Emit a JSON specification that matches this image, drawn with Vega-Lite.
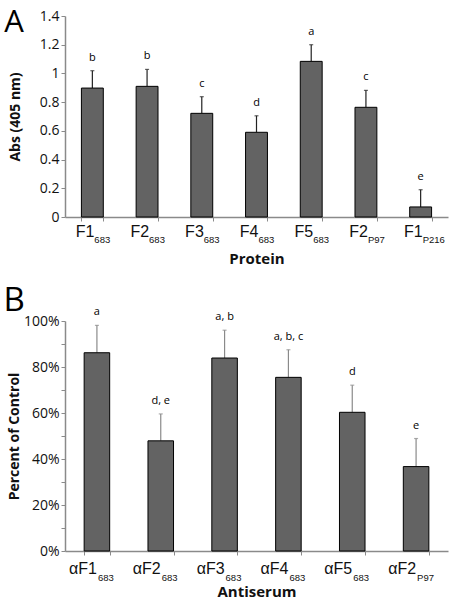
{
  "$schema": "https://vega.github.io/schema/vega-lite/v6.json",
  "background": "white",
  "padding": {"left": 3, "top": 7, "right": 5, "bottom": 0},
  "spacing": 18,
  "config": {
    "view": {"stroke": null},
    "font": "Open Sans",
    "axis": {"domainColor": "#8a8a8a", "tickColor": "#8a8a8a", "grid": false, "labelColor": "#111", "titleColor": "#111"}
  },
  "datasets": {
    "a": [
      {"cat": "F1_683", "main": "F1", "sub": "683", "value": 0.898, "upper": 1.019, "sig": "b"},
      {"cat": "F2_683", "main": "F2", "sub": "683", "value": 0.91, "upper": 1.028, "sig": "b"},
      {"cat": "F3_683", "main": "F3", "sub": "683", "value": 0.722, "upper": 0.838, "sig": "c"},
      {"cat": "F4_683", "main": "F4", "sub": "683", "value": 0.59, "upper": 0.705, "sig": "d"},
      {"cat": "F5_683", "main": "F5", "sub": "683", "value": 1.084, "upper": 1.2, "sig": "a"},
      {"cat": "F2_P97", "main": "F2", "sub": "P97", "value": 0.764, "upper": 0.882, "sig": "c"},
      {"cat": "F1_P216", "main": "F1", "sub": "P216", "value": 0.07, "upper": 0.19, "sig": "e"}
    ],
    "b": [
      {"cat": "aF1_683", "main": "αF1", "sub": "683", "value": 0.862, "upper": 0.981, "sig": "a"},
      {"cat": "aF2_683", "main": "αF2", "sub": "683", "value": 0.479, "upper": 0.596, "sig": "d, e"},
      {"cat": "aF3_683", "main": "αF3", "sub": "683", "value": 0.839, "upper": 0.96, "sig": "a, b"},
      {"cat": "aF4_683", "main": "αF4", "sub": "683", "value": 0.755, "upper": 0.875, "sig": "a, b, c"},
      {"cat": "aF5_683", "main": "αF5", "sub": "683", "value": 0.603, "upper": 0.721, "sig": "d"},
      {"cat": "aF2_P97", "main": "αF2", "sub": "P97", "value": 0.367, "upper": 0.489, "sig": "e"}
    ]
  },
  "vconcat": [
    {
      "width": 383,
      "height": 201,
      "title": {"text": "A", "anchor": "start", "frame": "bounds", "fontSize": 31, "font": "Open Sans", "fontWeight": "normal", "offset": -30, "dx": -4, "color": "#000"},
      "data": {"name": "a"},
      "encoding": {
        "x": {"field": "cat", "type": "nominal", "sort": null, "scale": {"paddingInner": 0.6, "paddingOuter": 0.3},
          "axis": {"title": "Protein", "titleFontSize": 15, "titleFontWeight": "bold", "titlePadding": 30, "labels": false, "tickBand": "extent", "tickSize": 4, "domainWidth": 1.5}},
        "y": {"field": "value", "type": "quantitative", "scale": {"domain": [0, 1.4], "nice": false, "zero": true},
          "axis": {"title": "Abs (405 nm)", "titleFontSize": 14, "titleFontWeight": "bold", "titlePadding": 17, "values": [0, 0.2, 0.4, 0.6, 0.8, 1, 1.2, 1.4], "labelExpr": "format(datum.value, '~g')", "labelFontSize": 14, "labelOverlap": false, "labelSeparation": -40, "labelBound": false, "labelFlush": false, "tickSize": 4, "domainWidth": 1.5, "labelPadding": 2}}
      },
      "layer": [
        {"mark": {"type": "rule", "color": "#222", "strokeWidth": 1.2},
          "encoding": {"y2": {"field": "upper"}}},
        {"mark": {"type": "tick", "color": "#222", "size": 4, "thickness": 1.2},
          "encoding": {"y": {"field": "upper", "type": "quantitative"}}},
        {"mark": {"type": "bar", "color": "#636363", "stroke": "#000", "strokeWidth": 1}},
        {"mark": {"type": "text", "fontSize": 11, "dy": -8, "baseline": "bottom", "color": "#000"},
          "encoding": {"y": {"field": "upper", "type": "quantitative"}, "text": {"field": "sig"}}},
        {"mark": {"type": "text", "fontSize": 16, "font": "Liberation Sans", "align": "right", "baseline": "alphabetic", "dx": 2, "dy": 20, "color": "#111"},
          "encoding": {"y": {"datum": 0, "type": "quantitative"}, "text": {"field": "main"}}},
        {"mark": {"type": "text", "fontSize": 9.5, "font": "Liberation Sans", "align": "left", "baseline": "alphabetic", "dx": 2, "dy": 26, "color": "#111"},
          "encoding": {"y": {"datum": 0, "type": "quantitative"}, "text": {"field": "sub"}}}
      ]
    },
    {
      "width": 383,
      "height": 230,
      "title": {"text": "B", "anchor": "start", "frame": "bounds", "fontSize": 33, "font": "Open Sans", "fontWeight": "normal", "offset": -12, "dx": -4, "color": "#000"},
      "data": {"name": "b"},
      "encoding": {
        "x": {"field": "cat", "type": "nominal", "sort": null, "scale": {"paddingInner": 0.6, "paddingOuter": 0.3},
          "axis": {"title": "Antiserum", "titleFontSize": 15, "titleFontWeight": "bold", "titlePadding": 29, "labels": false, "tickBand": "extent", "tickSize": 4, "domainWidth": 1.5}},
        "y": {"field": "value", "type": "quantitative", "scale": {"domain": [0, 1], "nice": false},
          "axis": {"title": "Percent of Control", "titleFontSize": 14, "titleFontWeight": "bold", "titlePadding": 2, "values": [0, 0.1, 0.2, 0.3, 0.4, 0.5, 0.6, 0.7, 0.8, 0.9, 1], "labelExpr": "round(datum.value*10) % 2 == 0 ? round(datum.value*100) + '%' : ''", "labelFontSize": 14, "labelOverlap": false, "labelSeparation": -40, "labelBound": false, "labelFlush": false, "tickSize": 4, "domainWidth": 1.5, "labelPadding": 2}}
      },
      "layer": [
        {"mark": {"type": "rule", "color": "#8a8a8a", "strokeWidth": 1.2},
          "encoding": {"y2": {"field": "upper"}}},
        {"mark": {"type": "tick", "color": "#8a8a8a", "size": 4, "thickness": 1.2},
          "encoding": {"y": {"field": "upper", "type": "quantitative"}}},
        {"mark": {"type": "bar", "color": "#636363", "stroke": "#000", "strokeWidth": 1}},
        {"mark": {"type": "text", "fontSize": 11, "dy": -8, "baseline": "bottom", "color": "#000"},
          "encoding": {"y": {"field": "upper", "type": "quantitative"}, "text": {"field": "sig"}}},
        {"mark": {"type": "text", "fontSize": 16, "font": "Liberation Sans", "align": "right", "baseline": "alphabetic", "dx": 0, "dy": 23, "color": "#111"},
          "encoding": {"y": {"datum": 0, "type": "quantitative"}, "text": {"field": "main"}}},
        {"mark": {"type": "text", "fontSize": 9.5, "font": "Liberation Sans", "align": "left", "baseline": "alphabetic", "dx": 1, "dy": 30, "color": "#111"},
          "encoding": {"y": {"datum": 0, "type": "quantitative"}, "text": {"field": "sub"}}}
      ]
    }
  ]
}
